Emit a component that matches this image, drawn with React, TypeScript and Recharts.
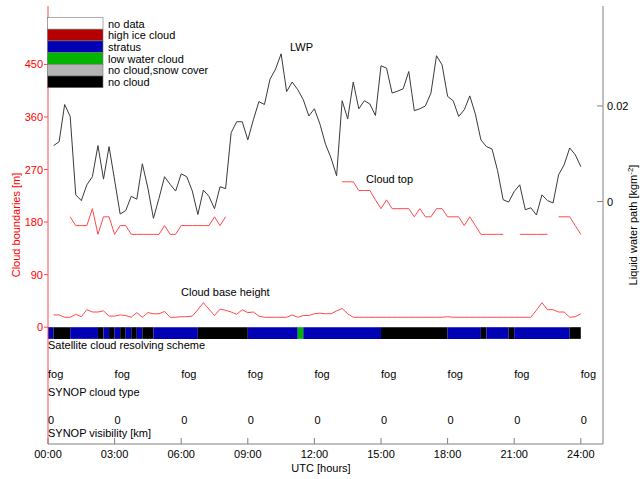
import { ComposedChart, Line, XAxis, YAxis, ReferenceArea, ReferenceDot } from 'recharts'

// 15 minute samples, first one at 00:15
const stepHours = 0.25

const lwp = [
  0.0117, 0.0125, 0.0203, 0.0178, 0.0014, 0.0002, 0.0035, 0.0052, 0.0117, 0.0047,
  0.0115, 0.0045, -0.0026, -0.0019, 0.0011, 0.0005, 0.0079, 0.0028, -0.0035, 0.0007,
  0.0052, 0.0036, 0.0022, 0.0058, 0.0052, 0.0022, -0.0027, 0.0024, 0.0011, -0.0015,
  0.0031, 0.0027, 0.0144, 0.0167, 0.0167, 0.0129, 0.0171, 0.0209, 0.0203, 0.0256,
  0.0277, 0.0309, 0.0230, 0.0250, 0.0234, 0.0213, 0.0179, 0.0194, 0.0162, 0.0120,
  0.0091, 0.0054, 0.0211, 0.0173, 0.0250, 0.0194, 0.0211, 0.0204, 0.0180, 0.0284,
  0.0279, 0.0227, 0.0231, 0.0236, 0.0272, 0.0190, 0.0194, 0.0200, 0.0227, 0.0305,
  0.0286, 0.0220, 0.0211, 0.0178, 0.0192, 0.0221, 0.0183, 0.0129, 0.0115, 0.0110,
  0.0065, 0.0004, -0.0001, 0.0021, 0.0035, -0.0017, -0.0013, -0.0028, 0.0014, 0.0002,
  -0.0003, 0.0056, 0.0077, 0.0112, 0.0098, 0.0073,
]

const cloudTop = [
  null, null, null, 189, 174, 174, 174, 203, 159, 189,
  189, 159, 174, 174, 159, 159, 159, 159, 159, 159,
  174, 159, 159, 174, 174, 174, 174, 174, 174, 189,
  174, 189, null, null, null, null, null, null, null, null,
  null, null, null, null, null, null, null, null, null, null,
  null, null, 249, 249, 249, 234, 234, 234, 218, 203,
  218, 203, 203, 203, 203, 189, 203, 189, 189, 203,
  203, 189, 189, 189, 174, 189, 174, 159, 159, 159,
  159, 159, null, null, 159, 159, 159, 159, 159, 159,
  null, 189, 189, 189, 174, 159,
]

const cloudBase = [
  21, 21, 17, 17, 22, 18, 30, 26, 26, 28,
  19, 19, 21, 20, 17, 25, 17, 25, 23, 23,
  27, 17, 17, 18, 18, 19, 30, 42, 31, 20,
  31, 29, 26, 22, 30, 25, 26, 19, 17, 17,
  17, 17, 17, 21, 17, 20, 20, 23, 24, 23,
  23, 28, 32, 23, 17, 17, 17, 17, 17, 17,
  17, 17, 17, 17, 17, 17, 17, 17, 17, 17,
  17, 18, 17, 17, 17, 17, 17, 17, 17, 17,
  17, 17, 17, 17, 17, 17, 17, 29, 42, 30,
  30, 26, 26, 17, 18, 23,
]

// satellite cloud scheme: segment edges (hours) and the class of each segment
const segEdges = [0, 0.25, 1, 2.25, 2.5, 2.75, 3, 3.25, 3.5, 3.75, 4, 4.25, 4.75, 6.75, 9, 11.25, 11.5, 15, 18, 19.5, 19.75, 20.75, 21, 23.5, 24]
const segTypes = [
  'stratus', 'none', 'stratus', 'none', 'stratus', 'none', 'stratus', 'none', 'stratus', 'none',
  'stratus', 'none', 'stratus', 'none', 'stratus', 'low', 'stratus', 'none', 'stratus', 'none',
  'stratus', 'none', 'stratus', 'none',
]

const legendNames = ['no data', 'high ice cloud', 'stratus', 'low water cloud', 'no cloud,snow cover', 'no cloud']
const legendKeys = ['nodata', 'ice', 'stratus', 'low', 'snow', 'none']
const classColors: Record<string, string> = {
  nodata: '#ffffff',
  ice: '#b40000',
  stratus: '#0000b4',
  low: '#00b400',
  snow: '#b4b4b4',
  none: '#000000',
}

const hourTicks = [0, 3, 6, 9, 12, 15, 18, 21, 24]
const synopCloud = ['fog', 'fog', 'fog', 'fog', 'fog', 'fog', 'fog', 'fog', 'fog']
const synopVis = ['0', '0', '0', '0', '0', '0', '0', '0', '0']
const leftTicks = [0, 90, 180, 270, 360, 450]
const rightTicks = [0, 0.02]

const font = '"Liberation Sans", Arial, sans-serif'
const red = '#ff4a4a'

const chartData = lwp.map((v, i) => ({
  t: (i + 1) * stepHours,
  lwp: v,
  top: cloudTop[i],
  base: cloudBase[i],
}))

const fmtHour = (h: number) => (h < 10 ? '0' + h : '' + h) + ':00'

const BottomTick = (props: any) => {
  const { x, y, payload } = props
  return (
    <g>
      <line x1={x} x2={x} y1={y - 6} y2={y} stroke="#808080" />
      <text x={x} y={y + 14} textAnchor="middle" fontSize={11} fontFamily={font} fill="#000">
        {fmtHour(payload.value)}
      </text>
    </g>
  )
}

const LeftTick = (props: any) => {
  const { x, y, payload } = props
  return (
    <g>
      <line x1={x - 4} x2={x} y1={y} y2={y} stroke={red} />
      <text x={x - 5} y={y + 4} textAnchor="end" fontSize={11} fontFamily={font} fill="#ff0000">
        {payload.value}
      </text>
    </g>
  )
}

const RightTick = (props: any) => {
  const { x, y, payload } = props
  return (
    <g>
      <line x1={x - 6} x2={x} y1={y} y2={y} stroke="#808080" />
      <text x={x + 4} y={y + 4} textAnchor="start" fontSize={11} fontFamily={font} fill="#000">
        {payload.value}
      </text>
    </g>
  )
}

const rowText = (label: string) => (props: any) => (
  <text x={props.cx} y={props.cy} fontSize={11} fontFamily={font} fill="#000">
    {label}
  </text>
)

function App() {
  return (
    <div style={{ position: 'absolute', left: 0, top: 0, width: 642, height: 479, background: '#fff' }}>
      <ComposedChart width={642} height={479} data={chartData} margin={{ top: 6, right: 0, bottom: 0, left: 0 }}>
        <XAxis
          dataKey="t"
          type="number"
          domain={[0, 25]}
          ticks={hourTicks}
          height={35}
          tickSize={0}
          tickMargin={0}
          tick={<BottomTick />}
          axisLine={{ stroke: '#808080' }}
          tickLine={false}
        />
        <YAxis
          yAxisId="left"
          domain={[-200, 550]}
          ticks={leftTicks}
          width={48}
          tickSize={0}
          tickMargin={0}
          tick={<LeftTick />}
          axisLine={{ stroke: red }}
          tickLine={false}
        />
        <YAxis
          yAxisId="right"
          orientation="right"
          domain={[-0.0507, 0.0409]}
          ticks={rightTicks}
          width={39}
          tickSize={0}
          tickMargin={0}
          tick={<RightTick />}
          axisLine={{ stroke: '#808080' }}
          tickLine={false}
        />
        {segTypes.map((c, i) => (
          <ReferenceArea
            key={'seg' + i}
            yAxisId="left"
            x1={segEdges[i]}
            x2={segEdges[i + 1]}
            y1={-20}
            y2={0}
            fill={classColors[c]}
            fillOpacity={1}
            stroke="none"
          />
        ))}
        {hourTicks.map((h, i) => (
          <ReferenceDot key={'c' + i} yAxisId="left" x={h} y={-87} r={0} shape={rowText(synopCloud[i])} />
        ))}
        {hourTicks.map((h, i) => (
          <ReferenceDot key={'v' + i} yAxisId="left" x={h} y={-166} r={0} shape={rowText(synopVis[i])} />
        ))}
        <Line yAxisId="right" dataKey="lwp" stroke="#3a3a3a" strokeWidth={1} dot={false} isAnimationActive={false} />
        <Line yAxisId="left" dataKey="top" stroke={red} strokeWidth={1} dot={false} isAnimationActive={false} />
        <Line yAxisId="left" dataKey="base" stroke={red} strokeWidth={1} dot={false} isAnimationActive={false} />
      </ComposedChart>
      <svg width={642} height={479} style={{ position: 'absolute', left: 0, top: 0, pointerEvents: 'none' }}>
        {legendNames.map((name, i) => (
          <g key={name}>
            <rect x={47.5} y={17.5 + i * 11.7} width={55.5} height={11.7} fill={classColors[legendKeys[i]]} stroke="#777" strokeWidth={0.6} />
            <text x={108} y={27.5 + i * 11.7} fontSize={11} fontFamily={font} fill="#000">{name}</text>
          </g>
        ))}
        <text x={290} y={51} fontSize={11} fontFamily={font}>LWP</text>
        <text x={366} y={183} fontSize={11} fontFamily={font}>Cloud top</text>
        <text x={181} y={295.5} fontSize={11} fontFamily={font}>Cloud base height</text>
        <text x={48} y={349} fontSize={11} fontFamily={font}>Satellite cloud resolving scheme</text>
        <text x={48} y={396} fontSize={11} fontFamily={font}>SYNOP cloud type</text>
        <text x={48} y={437} fontSize={11} fontFamily={font}>SYNOP visibility [km]</text>
        <text x={321} y={472} fontSize={11} fontFamily={font} textAnchor="middle">UTC [hours]</text>
        <text transform="translate(20,225) rotate(-90)" fontSize={11} fontFamily={font} fill="#ff0000" textAnchor="middle">
          Cloud boundaries [m]
        </text>
        <text transform="translate(637,225) rotate(-90)" fontSize={11} fontFamily={font} fill="#000" textAnchor="middle">
          Liquid water path [kgm<tspan dy={-4} fontSize={8}>-2</tspan><tspan dy={4}>]</tspan>
        </text>
      </svg>
    </div>
  )
}

export default App
